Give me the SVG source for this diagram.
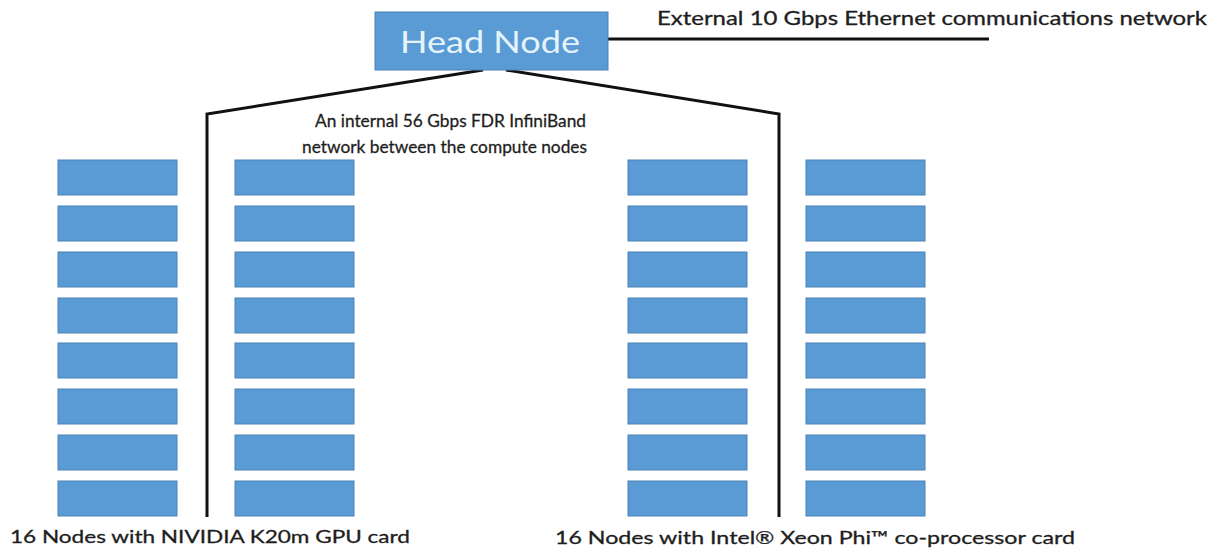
<svg xmlns="http://www.w3.org/2000/svg" width="1227" height="556" viewBox="0 0 1227 556">
<defs>
<style>
.node{fill:#5b9bd5;stroke:#4a82b8;stroke-width:1}
.wire{fill:none;stroke:#111;stroke-width:3;stroke-linejoin:miter}
.lbl{font-family:Lato,"Open Sans","Liberation Sans",sans-serif;fill:#1e1e1e;stroke:#1e1e1e;stroke-width:0.3}
.head{font-family:Lato,"Open Sans","Liberation Sans",sans-serif;fill:#e4f4fa;font-size:30px}
</style>
<rect id="cn" class="node" width="119" height="35"/>
</defs>
<rect width="1227" height="556" fill="#ffffff"/>
<g id="connectors">
<polyline class="wire" points="608,39 989,39"/>
<polyline class="wire" points="483,70 207,114 207,517"/>
<polyline class="wire" points="506,70 779,114 779,517"/>
</g>
<g id="head-node">
<rect class="node" x="375" y="12" width="233" height="58"/>
<text class="head" x="400" y="53" textLength="180" lengthAdjust="spacingAndGlyphs">Head Node</text>
</g>
<g id="gpu-nodes-col1">
<use href="#cn" x="58" y="160"/><use href="#cn" x="58" y="206"/><use href="#cn" x="58" y="252"/><use href="#cn" x="58" y="298"/>
<use href="#cn" x="58" y="343"/><use href="#cn" x="58" y="389"/><use href="#cn" x="58" y="435"/><use href="#cn" x="58" y="481"/>
</g>
<g id="gpu-nodes-col2">
<use href="#cn" x="235" y="160"/><use href="#cn" x="235" y="206"/><use href="#cn" x="235" y="252"/><use href="#cn" x="235" y="298"/>
<use href="#cn" x="235" y="343"/><use href="#cn" x="235" y="389"/><use href="#cn" x="235" y="435"/><use href="#cn" x="235" y="481"/>
</g>
<g id="phi-nodes-col1">
<use href="#cn" x="628" y="160"/><use href="#cn" x="628" y="206"/><use href="#cn" x="628" y="252"/><use href="#cn" x="628" y="298"/>
<use href="#cn" x="628" y="343"/><use href="#cn" x="628" y="389"/><use href="#cn" x="628" y="435"/><use href="#cn" x="628" y="481"/>
</g>
<g id="phi-nodes-col2">
<use href="#cn" x="806" y="160"/><use href="#cn" x="806" y="206"/><use href="#cn" x="806" y="252"/><use href="#cn" x="806" y="298"/>
<use href="#cn" x="806" y="343"/><use href="#cn" x="806" y="389"/><use href="#cn" x="806" y="435"/><use href="#cn" x="806" y="481"/>
</g>
<g id="labels">
<text class="lbl" x="657" y="25" font-size="19" textLength="550" lengthAdjust="spacingAndGlyphs">External 10 Gbps Ethernet communications network</text>
<text class="lbl" x="315" y="127" font-size="18" textLength="271" lengthAdjust="spacingAndGlyphs">An internal 56 Gbps FDR InfiniBand</text>
<text class="lbl" x="302" y="153" font-size="18" textLength="285" lengthAdjust="spacingAndGlyphs">network between the compute nodes</text>
<text class="lbl" x="10" y="543" font-size="18" textLength="400" lengthAdjust="spacingAndGlyphs">16 Nodes with NIVIDIA K20m GPU card</text>
<text class="lbl" x="555" y="544" font-size="18" textLength="520" lengthAdjust="spacingAndGlyphs">16 Nodes with Intel® Xeon Phi™ co-processor card</text>
</g>
</svg>
